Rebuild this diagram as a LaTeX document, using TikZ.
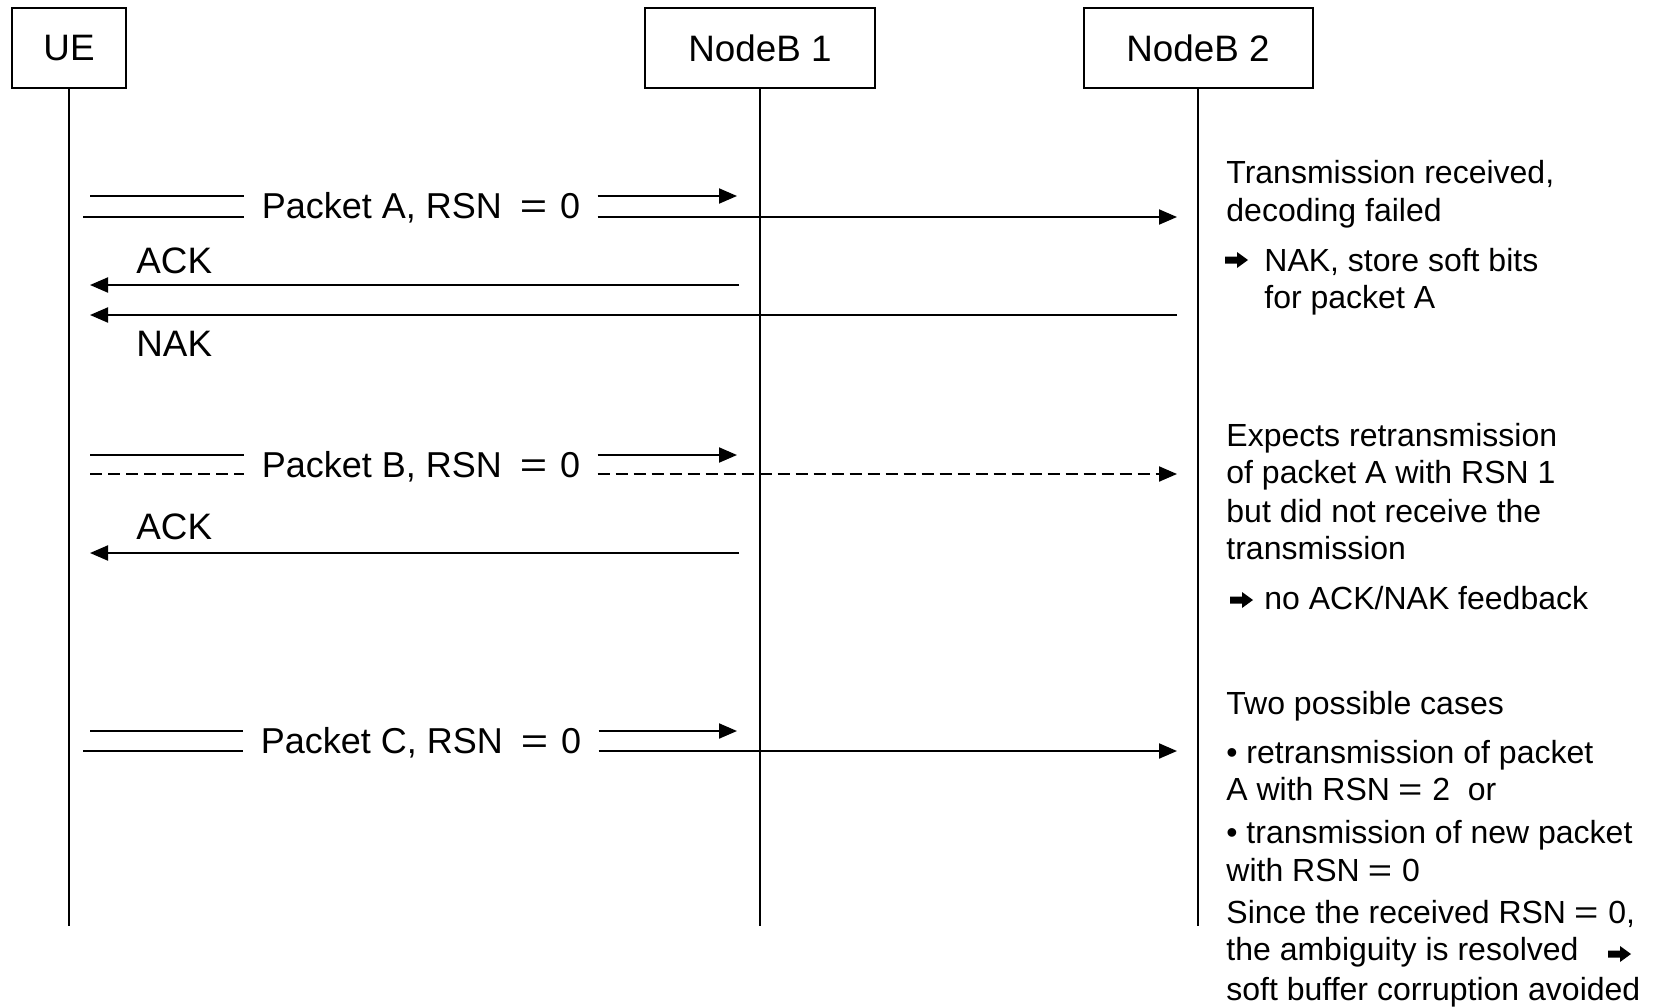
\documentclass[tikz,border=0pt]{standalone}
\usepackage{fontspec}
\setmainfont{Liberation Sans}
\usetikzlibrary{arrows.meta}
% widened equals signs for the message labels and the remarks
\newcommand\wideeq{\scalebox{1.3}[1]{=}}
\newcommand\eql{\hspace{9pt}\wideeq\hspace{6.5pt}}
\newcommand\eqs{\hspace{4pt}\wideeq\hspace{5pt}}

\begin{document}
\begin{tikzpicture}[x=0.5pt,y=-0.5pt,
  actor/.style={draw, line width=1pt, minimum height=40pt, inner sep=0pt,
    font=\fontsize{18.4}{20}\selectfont},
  life/.style={line width=0.7pt},
  sig/.style={line width=1pt},
  tip/.style={-{Triangle[length=9pt,width=7.5pt]}},
  lost/.style={dash pattern=on 6pt off 3pt},
  msg/.style={anchor=base, inner xsep=8.5pt, inner ysep=0pt,
    font=\fontsize{18}{20}\selectfont},
  lbl/.style={anchor=base west, inner sep=0pt, font=\fontsize{18.4}{20}\selectfont},
  note/.style={anchor=base west, inner sep=0pt, font=\fontsize{16}{18}\selectfont},
  fatarr/.pic={\fill (0,-3.5) -- (12,-3.5) -- (12,-8) -- (23,0) -- (12,8)
                 -- (12,3.5) -- (0,3.5) -- cycle;},
]
\useasboundingbox (0,0) rectangle (1663,1007);

% entities
\node[actor, minimum width=57pt]   (ue)  at (69,48)     {UE};
\node[actor, minimum width=115pt]  (nb1) at (760,48)    {NodeB 1};
\node[actor, minimum width=114.5pt](nb2) at (1198,48)   {NodeB 2};

% lifelines
\coordinate (ueEnd)  at (69,926);
\coordinate (nb1End) at (760,926);
\coordinate (nb2End) at (1198,926);
\draw[life] (ue)  -- (ueEnd);
\draw[life] (nb1) -- (nb1End);
\draw[life] (nb2) -- (nb2End);

% ---- Packet A ----
\node[msg] (pA) at (421,218.5) {Packet A, RSN\eql0};
\coordinate (pAu0) at (90,196);   \coordinate (pAu1) at (737,196);
\coordinate (pAl0) at (83,217);   \coordinate (pAl1) at (1177,217);
\draw[sig] (pAu0) -- (pAu0 -| pA.west);
\draw[sig,tip] (pAu0 -| pA.east) -- (pAu1);
\draw[sig] (pAl0) -- (pAl0 -| pA.west);
\draw[sig,tip] (pAl0 -| pA.east) -- (pAl1);

% ACK from NodeB 1, NAK from NodeB 2
\coordinate (ack1s) at (739,285);  \coordinate (ack1e) at (90,285);
\coordinate (naks)  at (1177,315); \coordinate (nake)  at (90,315);
\draw[sig,tip] (ack1s) -- (ack1e);
\draw[sig,tip] (naks) -- (nake);
\node[lbl] (ack1) at (136,273) {ACK};
\node[lbl] (nak)  at (136,356) {NAK};

% ---- Packet B ----
\node[msg] (pB) at (421,477.5) {Packet B, RSN\eql0};
\coordinate (pBu0) at (90,455);   \coordinate (pBu1) at (737,455);
\coordinate (pBl0) at (90,474);   \coordinate (pBl1) at (1177,474);
\draw[sig] (pBu0) -- (pBu0 -| pB.west);
\draw[sig,tip] (pBu0 -| pB.east) -- (pBu1);
\draw[sig,lost] (pBl0) -- (pBl0 -| pB.west);
\draw[sig,lost,tip] (pBl0 -| pB.east) -- (pBl1);

\coordinate (ack2s) at (739,553);  \coordinate (ack2e) at (90,553);
\draw[sig,tip] (ack2s) -- (ack2e);
\node[lbl] (ack2) at (136,539) {ACK};

% ---- Packet C ----
\node[msg] (pC) at (421,753.5) {Packet C, RSN\eql0};
\coordinate (pCu0) at (90,731);   \coordinate (pCu1) at (737,731);
\coordinate (pCl0) at (83,751);   \coordinate (pCl1) at (1177,751);
\draw[sig] (pCu0) -- (pCu0 -| pC.west);
\draw[sig,tip] (pCu0 -| pC.east) -- (pCu1);
\draw[sig] (pCl0) -- (pCl0 -| pC.west);
\draw[sig,tip] (pCl0 -| pC.east) -- (pCl1);

% ---- NodeB 2 remarks ----
\node[note] (a1) at (1226,183) {Transmission received,};
\node[note] (a2) at (1226,221) {decoding failed};
\pic at (1225,260) {fatarr};
\node[note] (a4) at (1264,271) {NAK, store soft bits};
\node[note] (a5) at (1264,308) {for packet A};

\node[note] (b1) at (1226,446) {Expects retransmission};
\node[note] (b2) at (1226,483) {of packet A with RSN 1};
\node[note] (b3) at (1226,522) {but did not receive the};
\node[note] (b4) at (1226,559) {transmission};
\pic at (1230,600) {fatarr};
\node[note] (b6) at (1264,609) {no ACK/NAK feedback};

\node[note] (c1) at (1226,714) {Two possible cases};
\node[note] (c2) at (1226,763) {• retransmission of packet};
\node[note] (c3) at (1226,800) {A with RSN\eqs2\ \ or};
\node[note] (c4) at (1226,843) {• transmission of new packet};
\node[note] (c5) at (1226,881) {with RSN\eqs0};
\node[note] (c6) at (1226,923) {Since the received RSN\eqs0,};
\node[note] (c7) at (1226,960) {the ambiguity is resolved};
\pic at (1608,954) {fatarr};
\node[note] (c8) at (1226,1000) {soft buffer corruption avoided};
\end{tikzpicture}
\end{document}
